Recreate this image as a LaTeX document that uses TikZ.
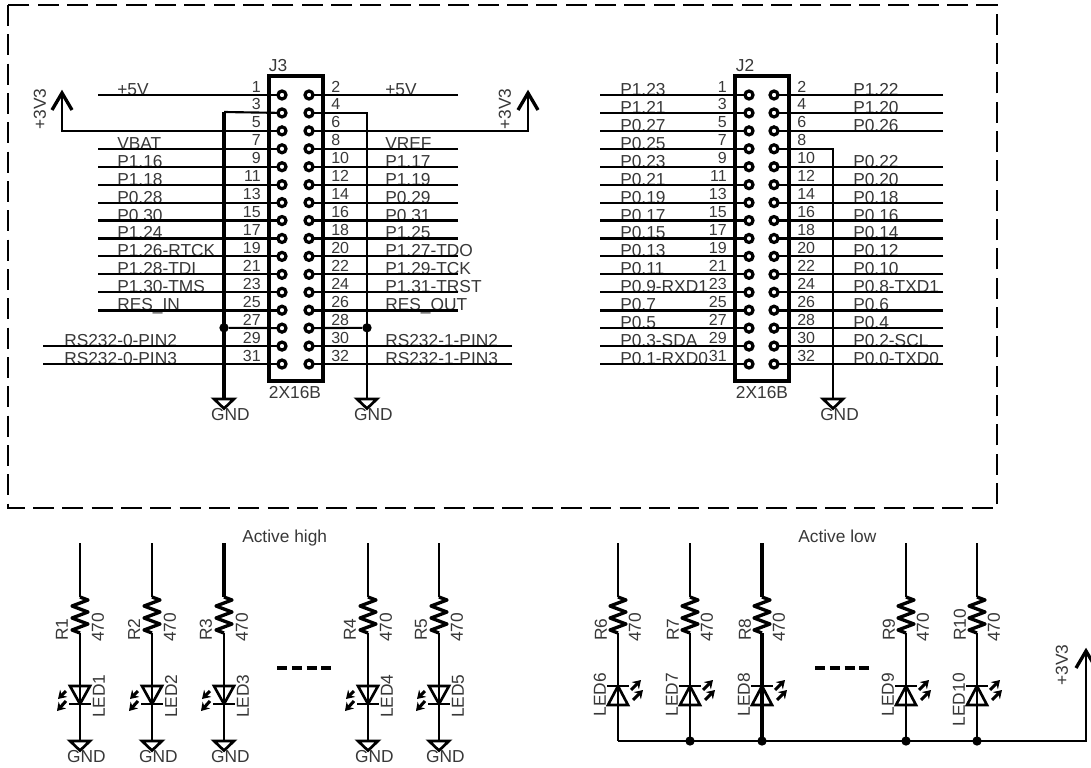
\documentclass[tikz,border=0pt]{standalone}
\usepackage{fontspec}
\setmainfont{Liberation Sans}
\usetikzlibrary{arrows.meta}
\definecolor{txt}{gray}{0.22}
\tikzset{
  x=0.75pt,y=-0.75pt,
  wire/.style={line width=1.6pt},
  wirebold/.style={line width=2.4pt},
  lab/.style={inner sep=0pt,text=txt,font=\fontsize{13}{15}\selectfont},
  num/.style={inner sep=0pt,text=txt,font=\fontsize{12}{14}\selectfont},
  pinhole/.style={circle,draw=black,fill=white,line width=2.4pt,minimum size=6pt,inner sep=0pt,outer sep=0pt},
  hdr/.style={draw=black,line width=3pt},
  dotj/.style={circle,fill=black,inner sep=0pt,minimum size=7pt},
  sym/.style={draw=black,line width=2pt,line join=miter},
  res/.style={draw=black,line width=2.5pt,line join=round},
  barb/.style={draw=black,line width=2.5pt,line join=miter},
  ray/.style={draw=black,line width=2.3pt,-{Stealth[length=6pt,width=7.5pt]}},
  frame/.style={draw=black,line width=1.6pt,dash pattern=on 15.75pt off 6.25pt},
}
\newcommand{\gndsym}[3]{% name, x, y(top)
  \coordinate (#1) at (#2,#3);
  \draw[sym] (#1) ++(-10,0) -- ++(20,0) -- ++(-10,9.5) -- cycle;
  \node[lab] (#1t) at (#2+6.5,#3+16) {GND};
}
\begin{document}
\begin{tikzpicture}
\useasboundingbox (0,0) rectangle (1091,767);
\path[fill=white] (0,0) rectangle (1091,767);
\draw[frame] (8,5) rectangle (997,508);

% ---------- headers
\draw[hdr] (269,76) rectangle (322.5,381);
\draw[hdr] (735,76) rectangle (789,381);
\node[lab] (J3name) at (278,66) {J3};
\node[lab] (J2name) at (745,66) {J2};
\node[lab] (J3type) at (295,393) {2X16B};
\node[lab] (J2type) at (762,393) {2X16B};

% ---------- pins
\foreach \n in {1,3,...,31}{
  \pgfmathsetmacro\yy{95+(\n-1)*8.967}
  \node[pinhole] (Jc\n) at (282,\yy) {};
  \node[pinhole] (Ka\n) at (749,\yy) {};
  \node[num,anchor=base east] (Jcn\n) at (261,\yy-3) {\n};
  \node[num,anchor=base east] (Kan\n) at (727,\yy-3) {\n};
}
\foreach \n in {2,4,...,32}{
  \pgfmathsetmacro\yy{95+(\n-2)*8.967}
  \node[pinhole] (Jc\n) at (309,\yy) {};
  \node[pinhole] (Ka\n) at (774,\yy) {};
  \node[num,anchor=base west] (Jcn\n) at (331,\yy-3) {\n};
  \node[num,anchor=base west] (Kan\n) at (797,\yy-3) {\n};
}

% ---------- J3 left
\foreach \n/\t/\xs/\xt/\w in {
  1/+5V/98/117/wire,7/VBAT/98/117/wire,9/P1.16/98/117/wire,11/P1.18/98/117/wire,
  13/P0.28/98/117/wire,15/P0.30/98/117/wirebold,17/P1.24/98/117/wire,
  19/P1.26-RTCK/98/117/wire,21/P1.28-TDI/98/117/wire,23/P1.30-TMS/98/117/wire,
  25/RES\_IN/98/117/wirebold,29/RS232-0-PIN2/43/64/wire,31/RS232-0-PIN3/43/64/wire}{
  \pgfmathsetmacro\yy{95+(\n-1)*8.967}
  \node[lab,anchor=base west] (Jl\n) at (\xt,\yy+0.5) {\t};
  \coordinate (Js\n) at (\xs,\yy);
  \draw[\w] (Js\n) -- (Jc\n);
}
% ---------- J3 right
\foreach \n/\t/\xs/\xt/\w in {
  2/+5V/458/385/wire,8/VREF/458/385/wire,10/P1.17/458/385/wire,12/P1.19/458/385/wire,
  14/P0.29/458/385/wire,16/P0.31/458/385/wirebold,18/P1.25/458/385/wire,
  20/P1.27-TDO/458/385/wire,22/P1.29-TCK/458/385/wire,24/P1.31-TRST/458/385/wire,
  26/RES\_OUT/458/385/wirebold,30/RS232-1-PIN2/512/385/wire,32/RS232-1-PIN3/512/385/wire}{
  \pgfmathsetmacro\yy{95+(\n-2)*8.967}
  \node[lab,anchor=base west] (Jl\n) at (\xt,\yy+0.5) {\t};
  \coordinate (Js\n) at (\xs,\yy);
  \draw[\w] (Js\n) -- (Jc\n);
}
% ---------- J2 left
\foreach \n/\t/\w in {
  1/P1.23/wire,3/P1.21/wire,5/P0.27/wire,7/P0.25/wire,9/P0.23/wire,11/P0.21/wire,
  13/P0.19/wire,15/P0.17/wirebold,17/P0.15/wire,
  19/P0.13/wire,21/P0.11/wire,23/P0.9-RXD1/wire,25/P0.7/wirebold,27/P0.5/wire,
  29/P0.3-SDA/wire,31/P0.1-RXD0/wire}{
  \pgfmathsetmacro\yy{95+(\n-1)*8.967}
  \node[lab,anchor=base west] (Kl\n) at (620,\yy+0.5) {\t};
  \coordinate (Ks\n) at (600,\yy);
  \draw[\w] (Ks\n) -- (Ka\n);
}
% ---------- J2 right
\foreach \n/\t/\w in {
  2/P1.22/wire,4/P1.20/wire,6/P0.26/wire,10/P0.22/wire,12/P0.20/wire,14/P0.18/wire,
  16/P0.16/wirebold,18/P0.14/wire,
  20/P0.12/wire,22/P0.10/wire,24/P0.8-TXD1/wire,26/P0.6/wirebold,28/P0.4/wire,
  30/P0.2-SCL/wire,32/P0.0-TXD0/wire}{
  \pgfmathsetmacro\yy{95+(\n-2)*8.967}
  \node[lab,anchor=base west] (Kl\n) at (853,\yy+0.5) {\t};
  \coordinate (Ks\n) at (943,\yy);
  \draw[\w] (Ks\n) -- (Ka\n);
}

% ---------- grounds of the headers
\gndsym{G1}{224}{399}
\gndsym{G2}{367}{399}
\gndsym{G3}{833}{399}
\coordinate (G1k) at (224,112);
\draw[wire] (Jc3) -- (G1k);
\draw[wirebold] (G1k) -- (G1);
\draw[wire] (Jc4) -| (G2);
\draw[wire] (Ka8) -| (G3);
\node[dotj] (D1) at (224,327.8) {};
\node[dotj] (D2) at (367,327.8) {};
\draw[wire] (Jc27) -- (D1);
\draw[wire] (Jc28) -- (D2);

% ---------- +3V3 rails
\coordinate (A1) at (62,93);
\coordinate (A2) at (528,93);
\draw[wire] (Jc5) -| (A1);
\draw[wire] (Jc6) -| (A2);
\draw[barb] (A1) ++(-10,17) -- ++(10,-17) -- ++(10,17);
\draw[barb] (A2) ++(-10,17) -- ++(10,-17) -- ++(10,17);
\node[lab,rotate=90] (V1) at (40,109) {+3V3};
\node[lab,rotate=90] (V2) at (505,109) {+3V3};

% ---------- captions
\node[lab,anchor=base west] (Hi) at (242,542) {Active high};
\node[lab,anchor=base west] (Lo) at (798,542) {Active low};

% ---------- active-high LEDs
\foreach \i/\x/\w in {1/80/wire,2/152/wire,3/224/wirebold,4/368/wire,5/439/wire}{
  \coordinate (Ht\i) at (\x,543);
  \coordinate (Ra\i) at (\x,597);
  \coordinate (Rb\i) at (\x,633);
  \draw[\w] (Ht\i) -- (Ra\i);
  \draw[res] (Ra\i) -- ++(8,3) -- ++(-16,6) -- ++(16,6) -- ++(-16,6) -- ++(16,6) -- ++(-16,6) -- (Rb\i);
  \node[lab,rotate=90,anchor=west] (Rn\i) at (\x-18,641) {R\i};
  \node[lab,rotate=90,anchor=west] (Rv\i) at (\x+18,642) {470};
  \gndsym{Hg\i}{\x}{741}
  \draw[wire] (Rb\i) -- (Hg\i);
  \draw[sym] (\x-10,686) -- (\x+10,686) -- (\x,704) -- cycle;
  \draw[sym] (\x-11,704) -- (\x+11,704);
  \draw[ray] (\x-14,691) -- (\x-22,699);
  \draw[ray] (\x-14,701) -- (\x-23,711);
  \node[lab,rotate=90,anchor=west] (Ln\i) at (\x+19,718) {LED\i};
}
% ---------- active-low LEDs
\foreach \i/\x/\w in {6/618/wire,7/690/wire,8/762/wirebold,9/906/wire,10/977/wire}{
  \coordinate (Lt\i) at (\x,543);
  \coordinate (Sa\i) at (\x,597);
  \coordinate (Sb\i) at (\x,633);
  \draw[\w] (Lt\i) -- (Sa\i);
  \draw[res] (Sa\i) -- ++(8,3) -- ++(-16,6) -- ++(16,6) -- ++(-16,6) -- ++(16,6) -- ++(-16,6) -- (Sb\i);
  \node[lab,rotate=90,anchor=west] (Sn\i) at (\x-17,641) {R\i};
  \node[lab,rotate=90,anchor=west] (Sv\i) at (\x+17,642) {470};
  \coordinate (Bu\i) at (\x,741);
  \draw[\w] (Sb\i) -- (Bu\i);
  \draw[sym] (\x-10,705) -- (\x+10,705) -- (\x,686) -- cycle;
  \draw[sym] (\x-11,686) -- (\x+11,686);
  \draw[ray] (\x+13,690) -- (\x+23,680);
  \draw[ray] (\x+15,700) -- (\x+25,690);
  \node[lab,rotate=90,anchor=east] (Mn\i) at (\x-18,673) {LED\i};
}
\coordinate (A3) at (1086,651);
\draw[wire] (Bu6) -- (1086,741) -- (A3);
\draw[barb] (A3) ++(-10,17) -- ++(10,-17) -- ++(10,17);
\node[lab,rotate=90] (V3) at (1062,665) {+3V3};
\foreach \i in {7,8,9,10}{ \node[dotj] (Bd\i) at (Bu\i) {}; }

% ---------- ellipsis dashes
\coordinate (Ea) at (277,668);
\coordinate (Eb) at (333,668);
\coordinate (Ec) at (815,668);
\coordinate (Ed) at (871,668);
\draw[line width=2.4pt,dash pattern=on 7.5pt off 3.6pt] (Ea) -- (Eb);
\draw[line width=2.4pt,dash pattern=on 7.5pt off 3.6pt] (Ec) -- (Ed);
\end{tikzpicture}
\end{document}
